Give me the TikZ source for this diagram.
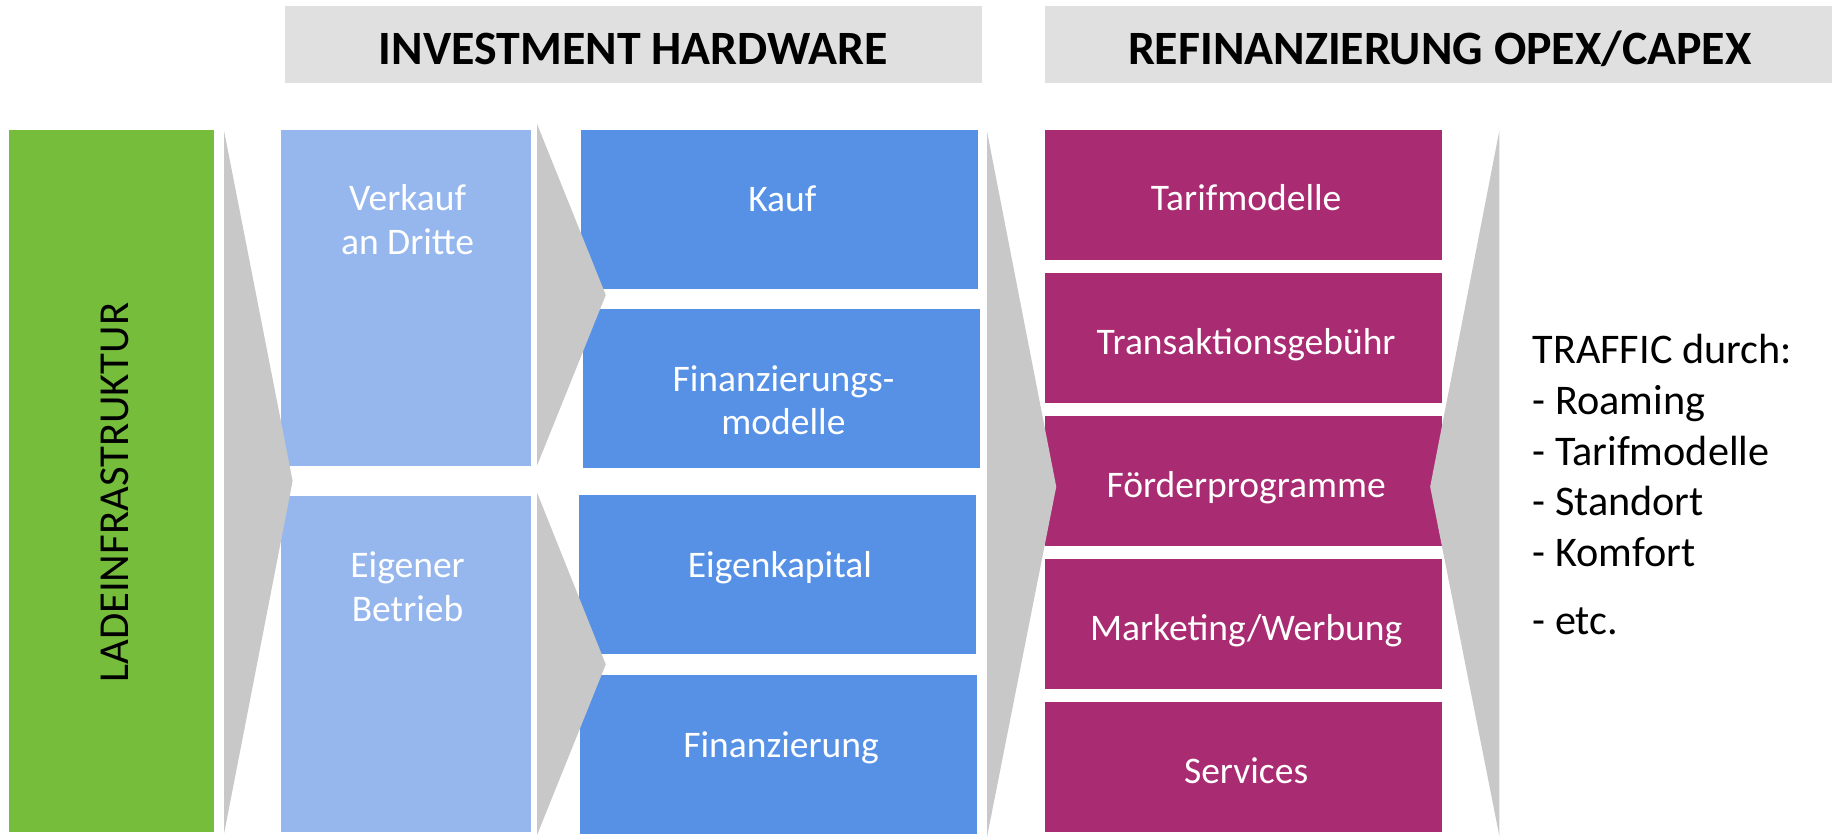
\documentclass[tikz,border=0pt]{standalone}
\usepackage{fontspec}
\setmainfont{Carlito}
\definecolor{hdrgrey}{RGB}{224,224,224}
\definecolor{chevgrey}{RGB}{200,200,200}
\definecolor{ladegreen}{RGB}{118,189,59}
\definecolor{lightblue}{RGB}{149,183,238}
\definecolor{midblue}{RGB}{86,145,230}
\definecolor{purp}{RGB}{169,43,114}
\begin{document}
\begin{tikzpicture}[x=0.5pt,y=-0.5pt,
  box/.style={draw=none, inner sep=0pt, outer sep=0pt},
  hdrbox/.style={box, fill=hdrgrey, minimum height=32.95pt},
  lbbox/.style={box, fill=lightblue, minimum width=106.55pt, minimum height=143.1pt},
  bbox/.style={box, fill=midblue, minimum width=169.45pt, minimum height=67.65pt},
  pbox/.style={box, fill=purp, minimum width=169.1pt, minimum height=55.3pt},
  chev/.style={fill=chevgrey},
  hdrtext/.style={anchor=base, inner sep=0pt, font=\fontsize{20.4}{24}\selectfont\bfseries},
  boxtext/.style={anchor=base, inner sep=0pt, text=white, font=\fontsize{16}{19}\selectfont},
  sidetext/.style={anchor=base west, inner sep=0pt, font=\fontsize{18}{22}\selectfont}
]
\useasboundingbox (0,0) rectangle (1568,714.5);

% headers
\node[hdrbox, minimum width=297.2pt] (h1) at (540,38) {};
\node[hdrbox, minimum width=335.4pt] (h2) at (1226.6,38) {};
\node[hdrtext] (h1t) at (540,55) {INVESTMENT HARDWARE};
\node[hdrtext] (h2t) at (1227.6,55) {REFINANZIERUNG OPEX/CAPEX};

% green bar
\node[box, fill=ladegreen, minimum width=87.5pt, minimum height=299.35pt] (lade) at (94.9,410.2) {};
\node[inner sep=0pt, rotate=90, font=\fontsize{18.2}{22}\selectfont] (ladet) at (98.3,420) {LADEINFRASTRUKTUR};

% light blue boxes
\node[lbbox] (verk) at (346.25,253.9) {};
\node[lbbox] (eig) at (346.25,566.05) {};

% blue boxes
\node[bbox] (kauf) at (664.45,178.45) {};
\node[bbox] (finmod) at (666.15,331.15) {};
\node[bbox] (eigk) at (662.95,489.75) {};
\node[bbox] (fin) at (663.9,643.2) {};

% purple boxes
\node[pbox] (tarif) at (1060.3,166.1) {};
\node[pbox] (trans) at (1060.3,288.05) {};
\node[pbox] (foerd) at (1060.3,410) {};
\node[pbox] (mark) at (1060.3,531.9) {};
\node[pbox] (serv) at (1060.3,653.85) {};

% chevrons
\fill[chev] (191.2,112.3) -- (249.5,410.1) -- (191.2,710) -- cycle;
\fill[chev] (457.9,105.7) -- (516.5,251.5) -- (457.9,397) -- cycle;
\fill[chev] (457.9,420) -- (516.5,566.5) -- (457.9,712) -- cycle;
\fill[chev] (841.6,112.3) -- (900.6,415) -- (841.6,713.4) -- cycle;
\fill[chev] (1278.5,110.8) -- (1219.4,415) -- (1278.5,713.4) -- cycle;

% box texts
\node[boxtext] (verk1) at (347.5,179.6) {Verkauf};
\node[boxtext] (verk2) at (347.5,216.6) {an Dritte};
\node[boxtext] (eig1) at (347.5,492.8) {Eigener};
\node[boxtext] (eig2) at (347.5,530.3) {Betrieb};
\node[boxtext] (kauft) at (667,180.5) {Kauf};
\node[boxtext] (finmod1) at (668,333.5) {Finanzierungs-};
\node[boxtext] (finmod2) at (668,370.5) {modelle};
\node[boxtext] (eigkt) at (665,492.2) {Eigenkapital};
\node[boxtext] (fint) at (666,645.5) {Finanzierung};
\node[boxtext] (tarift) at (1062.5,179.8) {Tarifmodelle};
\node[boxtext] (transt) at (1062.5,302.6) {Transaktionsgebühr};
\node[boxtext] (foerdt) at (1062.5,424.2) {Förderprogramme};
\node[boxtext] (markt) at (1062.5,546.5) {Marketing/Werbung};
\node[boxtext] (servt) at (1062.5,668.2) {Services};

% side text
\node[sidetext] (tr0) at (1306.4,309.5) {TRAFFIC durch:};
\node[sidetext] (tr1) at (1306.4,353) {- Roaming};
\node[sidetext] (tr2) at (1306.4,396.5) {- Tarifmodelle};
\node[sidetext] (tr3) at (1306.4,439.8) {- Standort};
\node[sidetext] (tr4) at (1306.4,483.1) {- Komfort};
\node[sidetext] (tr5) at (1306.4,541.1) {- etc.};
\end{tikzpicture}
\end{document}
